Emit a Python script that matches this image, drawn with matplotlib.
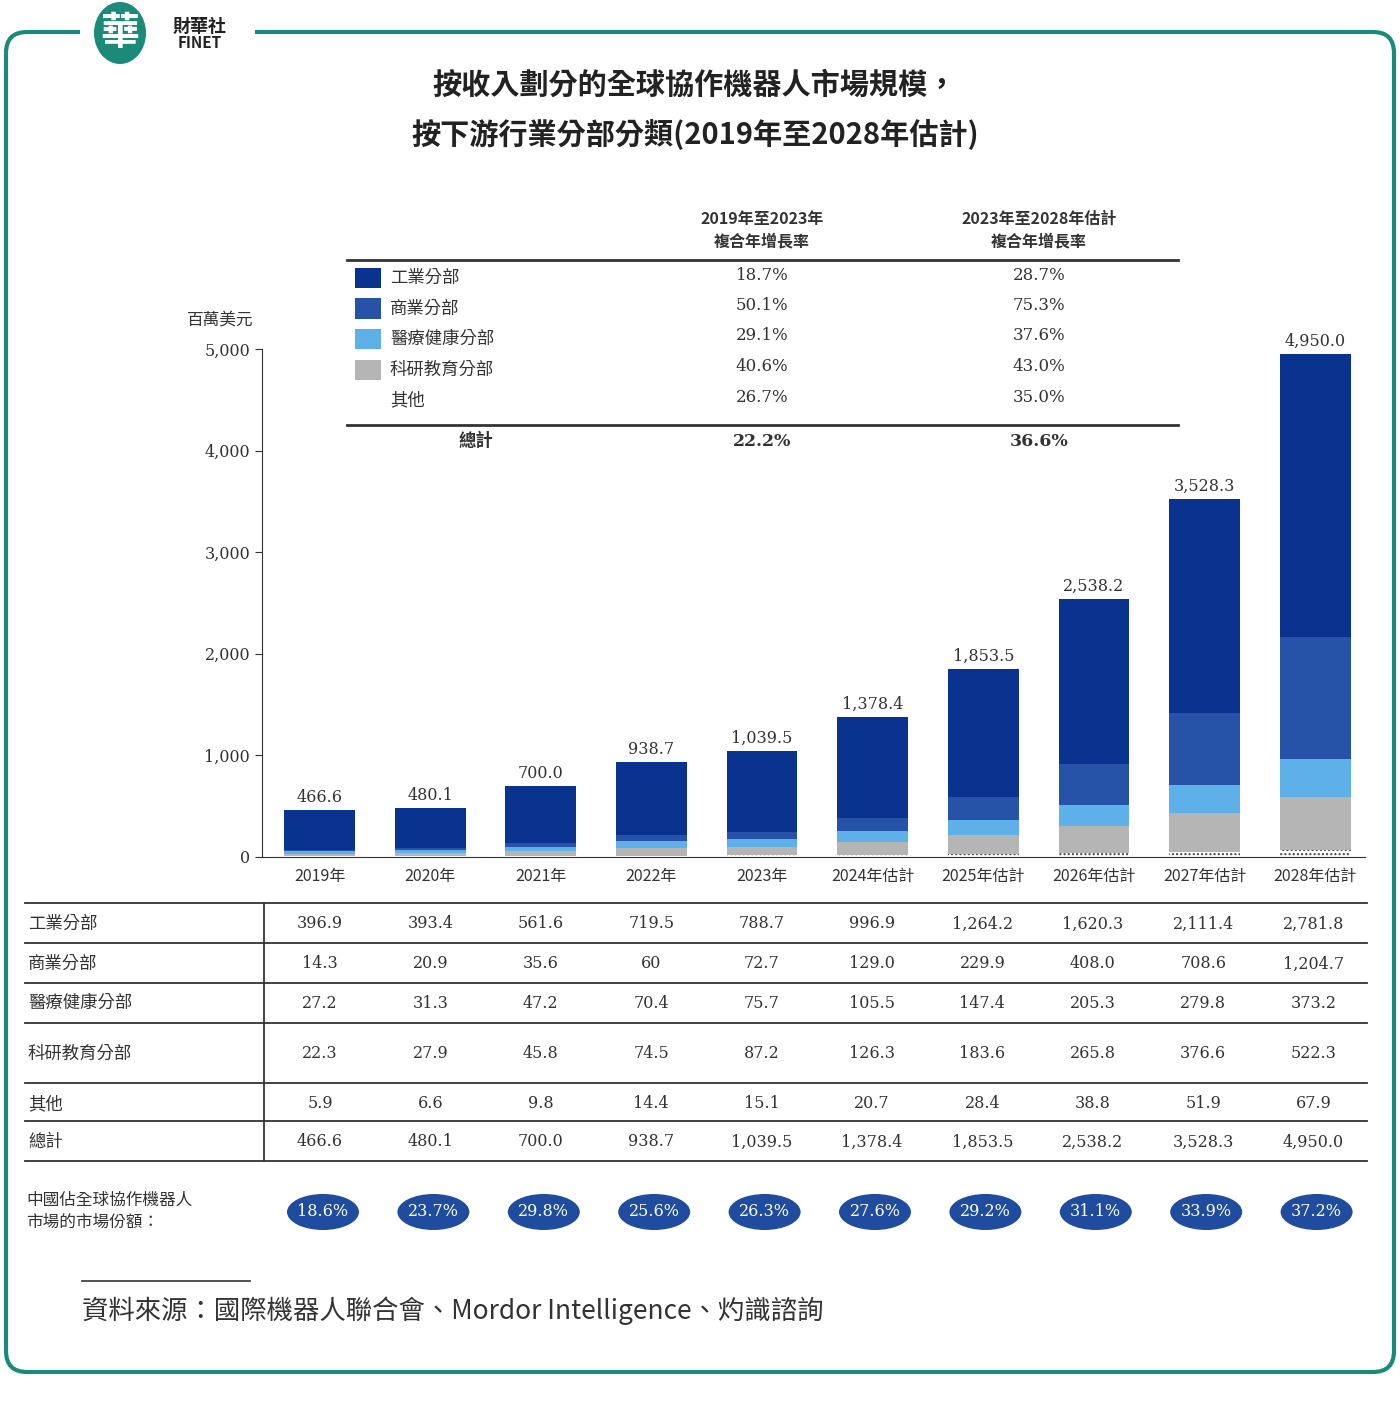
import matplotlib
matplotlib.use("Agg")
import matplotlib.pyplot as plt
from matplotlib.patches import FancyBboxPatch, Ellipse, Rectangle
from matplotlib.lines import Line2D
import numpy as np

plt.rcParams["font.family"] = ["Noto Sans CJK TC", "DejaVu Sans"]
plt.rcParams["hatch.color"] = "#444444"

years = ["2019年", "2020年", "2021年", "2022年", "2023年", "2024年估計", "2025年估計", "2026年估計", "2027年估計", "2028年估計"]
segments = ["工業分部", "商業分部", "醫療健康分部", "科研教育分部", "其他"]
industrial = [396.9, 393.4, 561.6, 719.5, 788.7, 996.9, 1264.2, 1620.3, 2111.4, 2781.8]
commercial = [14.3, 20.9, 35.6, 60, 72.7, 129.0, 229.9, 408.0, 708.6, 1204.7]
medical = [27.2, 31.3, 47.2, 70.4, 75.7, 105.5, 147.4, 205.3, 279.8, 373.2]
research = [22.3, 27.9, 45.8, 74.5, 87.2, 126.3, 183.6, 265.8, 376.6, 522.3]
others = [5.9, 6.6, 9.8, 14.4, 15.1, 20.7, 28.4, 38.8, 51.9, 67.9]
totals = [466.6, 480.1, 700.0, 938.7, 1039.5, 1378.4, 1853.5, 2538.2, 3528.3, 4950.0]
cagr_1923 = ["18.7%", "50.1%", "29.1%", "40.6%", "26.7%"]
cagr_2328 = ["28.7%", "75.3%", "37.6%", "43.0%", "35.0%"]
cagr_total = ["22.2%", "36.6%"]
china_share = ["18.6%", "23.7%", "29.8%", "25.6%", "26.3%", "27.6%", "29.2%", "31.1%", "33.9%", "37.2%"]
yticks = [0, 1000, 2000, 3000, 4000, 5000]

colors = ["#0a3390", "#2653a8", "#5db0e8", "#b5b5b5", "#ffffff"]

W, H = 1400, 1406
fig = plt.figure(figsize=(14, 14.06), dpi=100)

def fx(x): return x / W
def fy(y): return 1 - y / H
def txt(x, y, s, **kw):
    kw.setdefault("fontsize", 11.5)
    kw.setdefault("color", "#333333")
    kw.setdefault("va", "center")
    fig.text(fx(x), fy(y), s, **kw)
def hline(x0, x1, y, lw=1.2, c="#333333"):
    fig.add_artist(Line2D([fx(x0), fx(x1)], [fy(y), fy(y)], lw=lw, color=c, transform=fig.transFigure))

# Border
fig.add_artist(FancyBboxPatch((fx(6), fy(1372)), fx(1388), fy(32) - fy(1372),
               boxstyle="round,pad=0,rounding_size=0.015", fill=False, ec="#1b8a78", lw=3,
               transform=fig.transFigure))
fig.add_artist(Rectangle((fx(80), fy(60)), fx(175), fy(0) - fy(60), fc="white", ec="none", transform=fig.transFigure))
fig.add_artist(Ellipse((fx(120), fy(33)), fx(52), fy(0) - fy(62), fc="#1b8a78", ec="none", transform=fig.transFigure))
txt(120, 33, "華", fontsize=28, color="white", ha="center", fontweight="bold")
txt(200, 26, "財華社", fontsize=13, color="#222222", ha="center", fontweight="bold")
txt(200, 43, "FINET", fontsize=11, color="#222222", ha="center", fontweight="bold")

# Title
txt(695, 85, "按收入劃分的全球協作機器人市場規模，", fontsize=21, color="#222222", ha="center", fontweight="bold")
txt(695, 135, "按下游行業分部分類(2019年至2028年估計)", fontsize=21, color="#222222", ha="center", fontweight="bold")

# Main axes
ax = fig.add_axes([fx(262), fy(857), fx(1365) - fx(262), fy(349) - fy(857)])
ax.patch.set_alpha(0)
x = np.arange(len(years))
bottom = np.zeros(len(years))
for vals, c in zip([others, research, medical, commercial, industrial], colors[::-1]):
    hatch = "...." if c == "#ffffff" else None
    ax.bar(x, vals, bottom=bottom, width=0.64, color=c, linewidth=0, hatch=hatch)
    bottom += np.array(vals)
for i, t in enumerate(totals):
    ax.text(i, t + 40, f"{t:,.1f}", ha="center", va="bottom", fontsize=11.5, color="#333333", family="serif")
ax.set_xlim(-0.52, 9.45)
ax.set_ylim(0, 5000)
ax.set_yticks(yticks)
ax.set_yticklabels([f"{v:,}" for v in yticks], fontsize=11.5, color="#333333", family="serif")
ax.set_xticks(x)
ax.set_xticklabels(years, fontsize=11.5, color="#333333")
ax.tick_params(axis="x", length=0, pad=8)
ax.tick_params(axis="y", length=5, color="#333333")
for s in ["top", "right"]:
    ax.spines[s].set_visible(False)
ax.spines["left"].set_color("#333333")
ax.spines["bottom"].set_color("#333333")
txt(220, 321, "百萬美元", fontsize=12, ha="center", style="italic")

# Legend table
txt(762, 219, "2019年至2023年", fontsize=11.5, ha="center", fontweight="bold")
txt(762, 241, "複合年增長率", fontsize=11.5, ha="center", fontweight="bold")
txt(1039, 219, "2023年至2028年估計", fontsize=11.5, ha="center", fontweight="bold")
txt(1039, 241, "複合年增長率", fontsize=11.5, ha="center", fontweight="bold")
hline(347, 1178, 260, lw=2)
for i, seg in enumerate(segments):
    y = 278 + i * 30.5
    fig.add_artist(Rectangle((fx(355), fy(y + 10)), fx(26), fy(y - 10) - fy(y + 10),
                   fc=colors[i], ec="none", hatch="...." if i == 4 else None, transform=fig.transFigure))
    txt(390, y, seg, fontsize=12.5)
    txt(762, y - 3, cagr_1923[i], fontsize=12, ha="center", family="serif")
    txt(1039, y - 3, cagr_2328[i], fontsize=12, ha="center", family="serif")
hline(347, 1178, 425, lw=2)
txt(476, 441, "總計", fontsize=12.5, ha="center", fontweight="bold")
txt(762, 441, cagr_total[0], fontsize=12.5, ha="center", fontweight="bold", family="serif")
txt(1039, 441, cagr_total[1], fontsize=12.5, ha="center", fontweight="bold", family="serif")

# Data table
centers = [320 + i * 110.4 for i in range(10)]
rows = [industrial, commercial, medical, research, others, totals]
row_y = [924, 964, 1003, 1054, 1104, 1142]
lines_y = [903, 943, 983, 1023, 1083, 1121, 1161]
for ly in lines_y:
    hline(25, 1367, ly, lw=1.3)
fig.add_artist(Line2D([fx(264), fx(264)], [fy(903), fy(1161)], lw=1.3, color="#333333", transform=fig.transFigure))
for name, vals, y in zip(segments + ["總計"], rows, row_y):
    txt(28, y, name, fontsize=12.5)
    for c, v in zip(centers, vals):
        s = "60" if v == 60 else f"{v:,.1f}"
        txt(c, y, s, fontsize=11.5, ha="center", family="serif")

# China share
txt(26, 1200, "中國佔全球協作機器人", fontsize=12)
txt(26, 1222, "市場的市場份額：", fontsize=12)
for c, s in zip(centers, china_share):
    fig.add_artist(Ellipse((fx(c + 3), fy(1212)), fx(72), fy(1194) - fy(1230), fc="#1f4c9e", ec="none",
                           transform=fig.transFigure))
    txt(c + 3, 1212, s, fontsize=11.5, ha="center", color="white", family="serif")

# Source
hline(82, 250, 1281, lw=1.2)
txt(82, 1311, "資料來源：國際機器人聯合會、Mordor Intelligence、灼識諮詢", fontsize=19, style="italic", color="#333333")

fig.savefig("out.png", dpi=100, facecolor="white")
